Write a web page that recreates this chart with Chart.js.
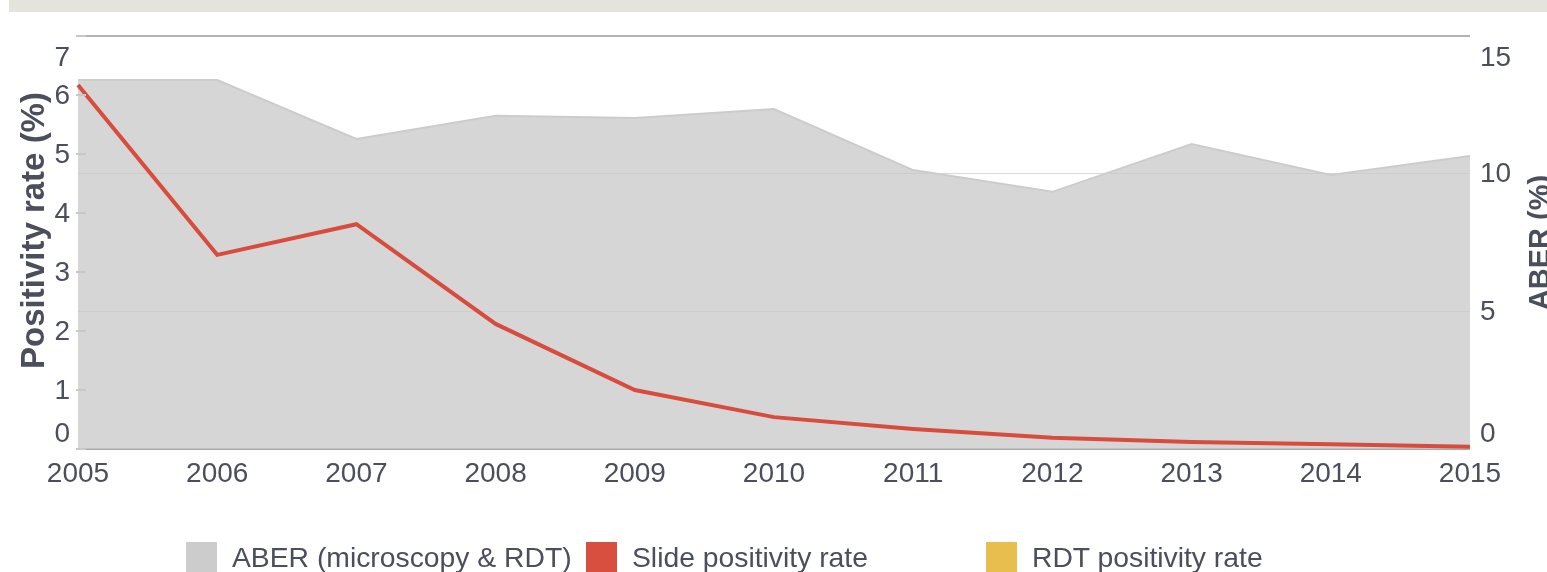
<!DOCTYPE html>
<html>
<head>
<meta charset="utf-8">
<script src="https://cdn.jsdelivr.net/npm/chart.js@4/dist/chart.umd.min.js"></script>
<style>
  html, body { margin: 0; padding: 0; background: #fff; }
  body { width: 1547px; height: 572px; position: relative; overflow: hidden; font-family: "Liberation Sans", Arial, sans-serif; }
  #band { position: absolute; left: 9px; top: 0; width: 1538px; height: 12px; background: #e4e3de; }
  #wrap { position: absolute; left: 0; top: 0; width: 1547px; height: 572px; }
  #legend { position: absolute; left: 186px; top: 542px; display: flex; }
  .item { width: 400px; display: flex; align-items: flex-start; }
  .box { width: 31px; height: 31px; margin-right: 15px; flex: none; }
  .lbl { font-size: 28.3px; line-height: 31px; color: #4b4e5c; white-space: nowrap; }
</style>
</head>
<body>
<div id="band"></div>
<div id="wrap"><canvas id="priceChart" width="1547" height="572"></canvas></div>
<div id="legend"></div>
<script>
// values
const years = ["2005","2006","2007","2008","2009","2010","2011","2012","2013","2014","2015"];
const aber = [13.4, 13.4, 11.26, 12.1, 12.02, 12.35, 10.13, 9.34, 11.08, 9.95, 10.64];
const slideRate = [6.17, 3.29, 3.81, 2.12, 1.0, 0.54, 0.34, 0.19, 0.12, 0.08, 0.04];
const rdtRate = [];
const leftTicks = [0, 1, 2, 3, 4, 5, 6, 7];
const rightTicks = [0, 5, 10, 15];

const TXT = "#4b4e5c";
const FONT = '"Liberation Sans", Arial, sans-serif';

// axis labels / titles drawn by hand so the end labels sit inside like the original
const axisText = {
  id: "axisText",
  afterDraw(c) {
    const ctx = c.ctx;
    const yl = c.scales.y, yr = c.scales.y1;
    const area = c.chartArea;
    ctx.save();
    // little tick marks on left axis
    ctx.strokeStyle = "#c8c8c8";
    ctx.lineWidth = 2;
    leftTicks.forEach(v => {
      const p = Math.round(yl.getPixelForValue(v));
      ctx.beginPath(); ctx.moveTo(76, p); ctx.lineTo(86, p); ctx.stroke();
    });
    ctx.fillStyle = TXT;
    ctx.font = "28px " + FONT;
    ctx.textBaseline = "middle";
    ctx.textAlign = "right";
    leftTicks.forEach((v, i) => {
      let p = yl.getPixelForValue(v);
      if (i === 0) p -= 16;
      if (i === leftTicks.length - 1) p += 21;
      ctx.fillText(String(v), 70, p + 1);
    });
    ctx.textAlign = "left";
    rightTicks.forEach((v, i) => {
      let p = yr.getPixelForValue(v);
      if (i === 0) p -= 16;
      if (i === rightTicks.length - 1) p += 21;
      ctx.fillText(String(v), 1480, p + 1);
    });
    // titles
    const mid = (area.top + area.bottom) / 2;
    ctx.font = "bold 33px " + FONT;
    ctx.textAlign = "center";
    ctx.textBaseline = "alphabetic";
    ctx.save();
    ctx.translate(44, mid - 12);
    ctx.rotate(-Math.PI / 2);
    ctx.fillText("Positivity rate (%)", 0, 0);
    ctx.restore();
    ctx.font = "bold 29px " + FONT;
    ctx.save();
    ctx.translate(1549, mid);
    ctx.rotate(-Math.PI / 2);
    ctx.fillText("ABER (%)", 0, 0);
    ctx.restore();
    ctx.restore();
  }
};

const ctx = document.getElementById("priceChart").getContext("2d");
const chart = new Chart(ctx, {
  type: "line",
  data: {
    labels: years,
    datasets: [
      {
        label: "ABER (microscopy & RDT)",
        data: aber,
        yAxisID: "y1",
        fill: "origin",
        backgroundColor: "rgba(201,201,201,0.76)",
        borderColor: "#cccccc",
        borderWidth: 2,
        pointRadius: 0,
        tension: 0,
        order: 2,
        legendColor: "#cccccc"
      },
      {
        label: "Slide positivity rate",
        data: slideRate,
        yAxisID: "y",
        fill: false,
        borderColor: "#d84c3d",
        backgroundColor: "#d84c3d",
        borderWidth: 4,
        pointRadius: 0,
        tension: 0,
        order: 1,
        legendColor: "#d94f3f"
      },
      {
        label: "RDT positivity rate",
        data: rdtRate,
        yAxisID: "y",
        fill: false,
        borderColor: "#e8bf4f",
        backgroundColor: "#e8bf4f",
        borderWidth: 4,
        pointRadius: 0,
        legendColor: "#e8bf4f"
      }
    ]
  },
  options: {
    responsive: false,
    animation: false,
    layout: { padding: { top: 36, left: 0, right: 0, bottom: 0 } },
    plugins: { legend: { display: false }, tooltip: { enabled: false } },
    scales: {
      x: {
        offset: false,
        grid: { display: false, drawTicks: false },
        border: { display: false },
        ticks: { color: TXT, font: { size: 28, family: FONT }, padding: 8, maxRotation: 0, autoSkip: false },
        afterFit(s) { s.height = 123; }
      },
      y: {
        position: "left",
        min: 0, max: 7,
        ticks: { display: false, stepSize: 1 },
        grid: { display: false },
        border: { display: false },
        afterFit(s) { s.width = 78; }
      },
      y1: {
        position: "right",
        min: 0, max: 15,
        ticks: { display: false, stepSize: 5 },
        border: { display: false },
        grid: {
          drawTicks: false,
          color: c => (c.index === 0 ? "#aaaaaa" : c.index === 3 ? "#b3b3b3" : "#d9d9d9"),
          lineWidth: c => (c.index === 0 || c.index === 3 ? 2 : 1)
        },
        afterFit(s) { s.width = 77; }
      }
    }
  },
  plugins: [axisText]
});

// html legend in fixed 400px columns, built from the chart's datasets
document.getElementById("legend").innerHTML = chart.data.datasets
  .map(d => `<div class="item"><div class="box" style="background:${d.legendColor}"></div><div class="lbl">${d.label.replace("&", "&amp;")}</div></div>`)
  .join("");
</script>
</body>
</html>
